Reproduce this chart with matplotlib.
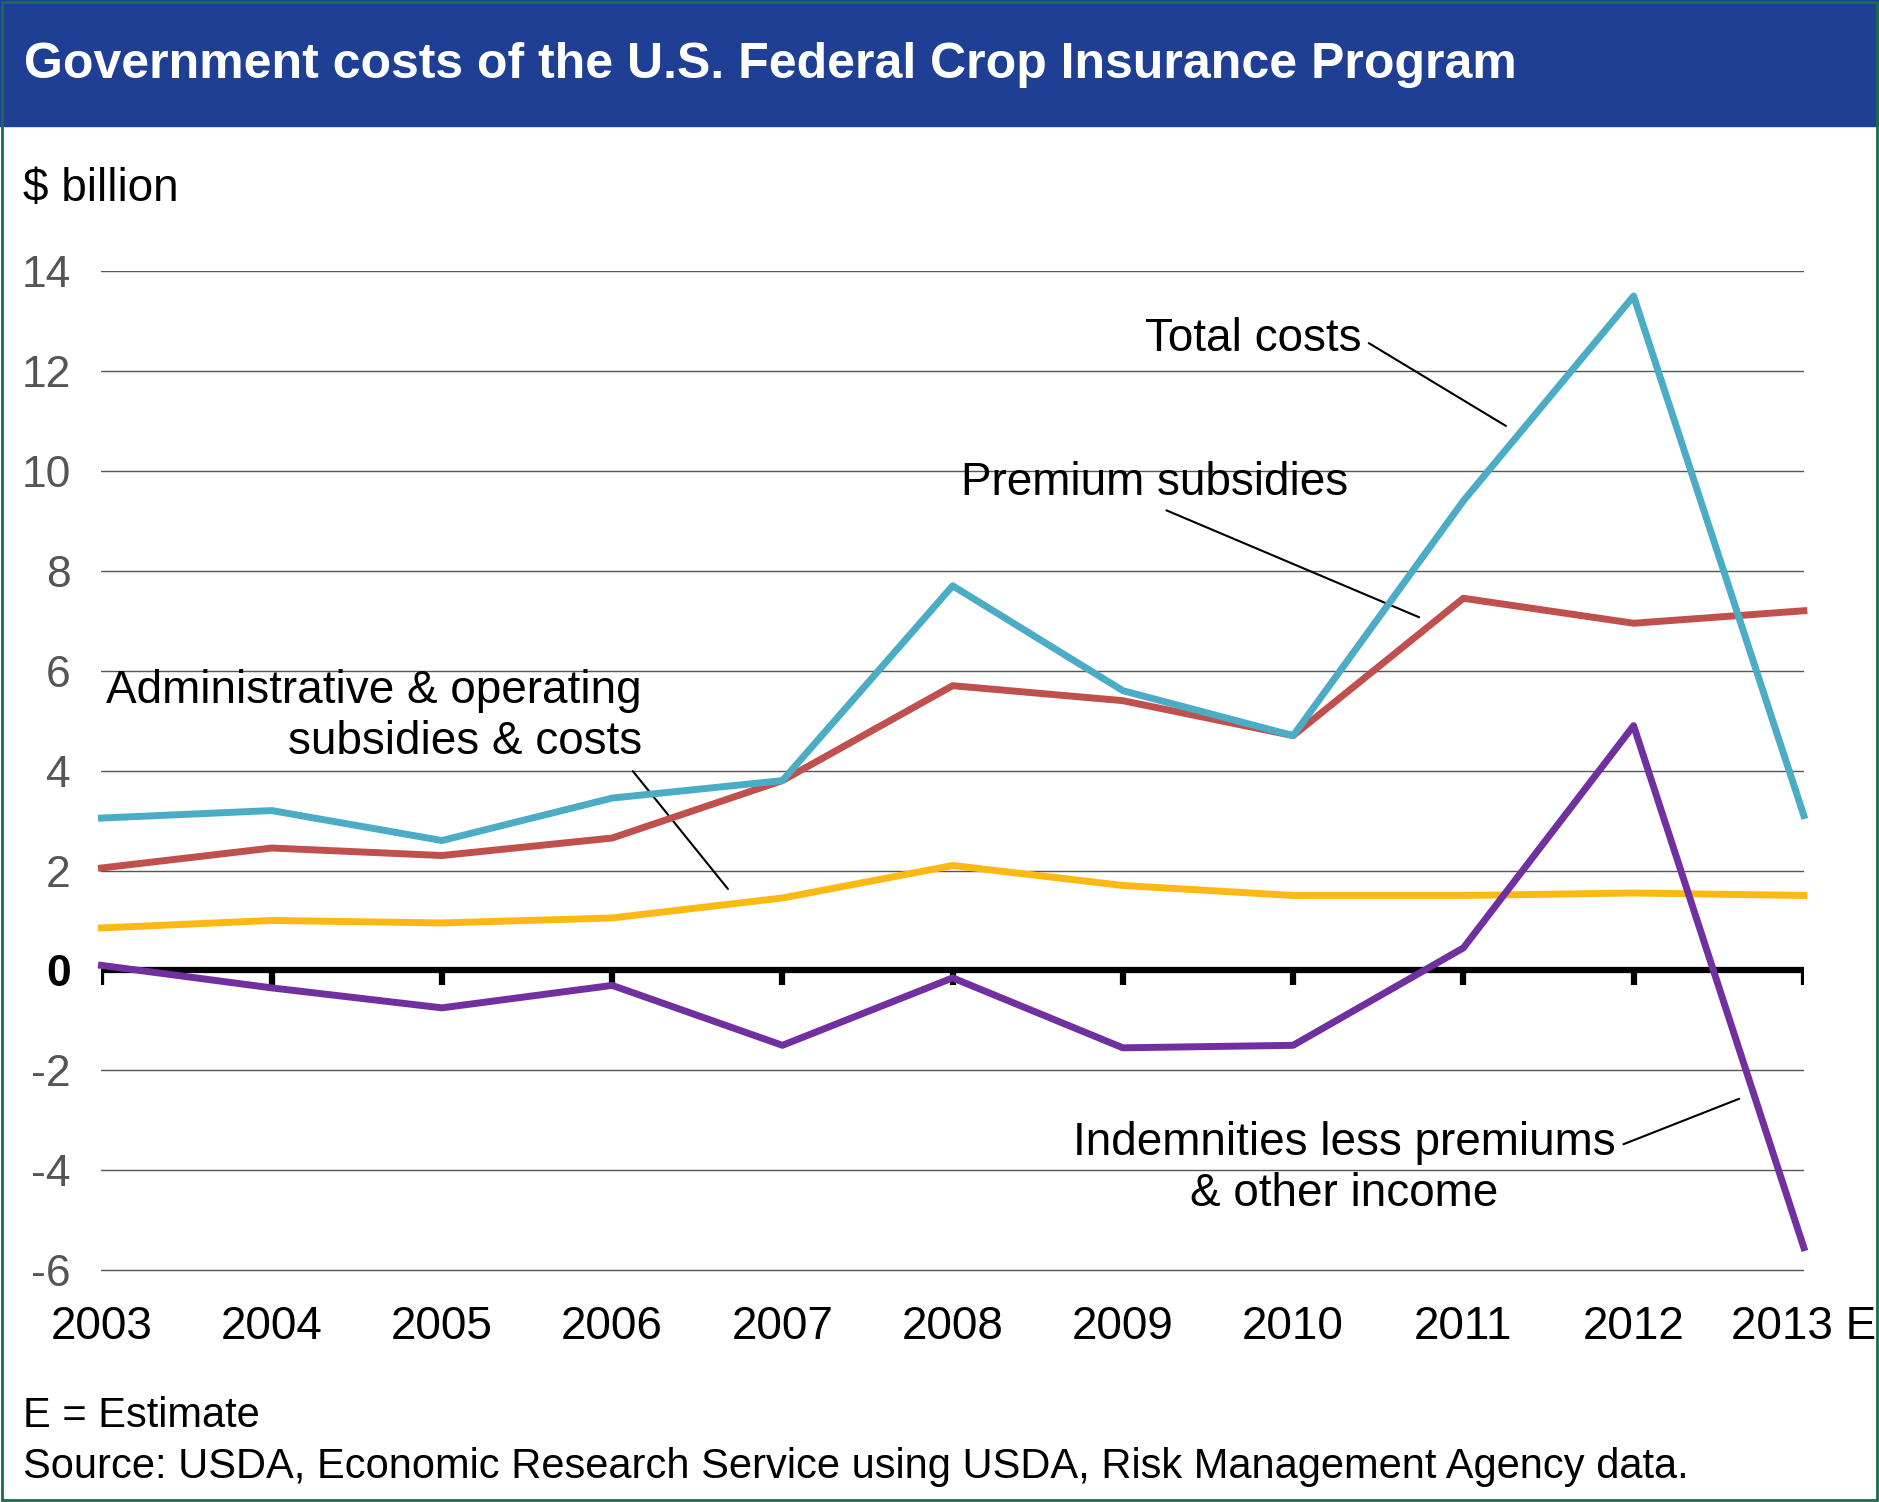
import matplotlib
matplotlib.use('Agg')
import matplotlib.pyplot as plt
from matplotlib.patches import Rectangle

plt.rcParams['font.family'] = ['Liberation Sans', 'DejaVu Sans']

years = [2003, 2004, 2005, 2006, 2007, 2008, 2009, 2010, 2011, 2012, 2013]
year_labels = ['2003', '2004', '2005', '2006', '2007', '2008', '2009', '2010', '2011', '2012', '2013 E']
total_costs = [3.05, 3.2, 2.6, 3.45, 3.8, 7.7, 5.6, 4.7, 9.4, 13.5, 3.1]
premium_subsidies = [2.05, 2.45, 2.3, 2.65, 3.8, 5.7, 5.4, 4.7, 7.45, 6.95, 7.2]
admin_costs = [0.85, 1.0, 0.95, 1.05, 1.45, 2.1, 1.7, 1.5, 1.5, 1.55, 1.5]
indemnities = [0.1, -0.35, -0.75, -0.3, -1.5, -0.15, -1.55, -1.5, 0.45, 4.9, -5.55]
y_ticks = [-6, -4, -2, 0, 2, 4, 6, 8, 10, 12, 14]

fig = plt.figure(figsize=(18.79, 15.02), dpi=100)
fig.patches.append(Rectangle((0, 0.916), 1, 0.084, transform=fig.transFigure,
                             color='#1f3f94', zorder=0))
fig.patches.append(Rectangle((0.001, 0.001), 0.998, 0.998, transform=fig.transFigure,
                             fill=False, edgecolor='#1d6b4f', lw=2))
fig.text(0.013, 0.957, 'Government costs of the U.S. Federal Crop Insurance Program',
         color='white', fontsize=36, fontweight='bold', va='center')

ax = fig.add_axes([0.054, 0.1534, 0.906, 0.6661])
ax.set_xlim(2003, 2013)
ax.set_ylim(-6.03, 14)
for s in ax.spines.values():
    s.set_visible(False)
ax.set_yticks(y_ticks)
ax.set_yticklabels([str(v) for v in y_ticks], color='#555555')
ax.get_yticklabels()[3].set_fontweight('bold')
ax.get_yticklabels()[3].set_color('black')
ax.tick_params(axis='y', length=0, labelsize=32, pad=22)
ax.grid(axis='y', color='#555555', lw=1)
ax.set_xticks(years)
ax.set_xticklabels(year_labels)
ax.tick_params(axis='x', length=0, labelsize=33, pad=24)
ax.set_axisbelow(True)

ax.axhline(0, color='black', lw=4.5, zorder=3)
ax.vlines(years, -0.3, 0, color='black', lw=4.5, zorder=3)

lw = 5
ax.plot(years, admin_costs, color='#fdb913', lw=lw, zorder=4, clip_on=False)
ax.plot(years, indemnities, color='#7030a0', lw=lw, zorder=4, clip_on=False)
ax.plot(years, premium_subsidies, color='#c0504d', lw=lw, zorder=5, clip_on=False)
ax.plot(years, total_costs, color='#4bacc6', lw=lw, zorder=6, clip_on=False)

fs = 33
arrow = dict(arrowstyle='-', color='black', lw=1.5, shrinkA=4, shrinkB=0)
ax.annotate('Total costs', xy=(2011.25, 10.9), xytext=(2010.4, 12.65), fontsize=fs,
            ha='right', va='center', arrowprops=dict(arrow, relpos=(1, 0.5)))
ax.annotate('Premium subsidies', xy=(2010.74, 7.07), xytext=(2008.05, 9.75), fontsize=fs,
            ha='left', va='center', arrowprops=dict(arrow, relpos=(0.5, 0)))
ax.annotate('Administrative & operating\nsubsidies & costs', xy=(2006.68, 1.63),
            xytext=(2004.6, 5.08), fontsize=fs, ha='center', va='center', multialignment='right',
            arrowprops=dict(arrow, relpos=(0.93, 0.3)))
ax.annotate('Indemnities less premiums\n& other income', xy=(2012.62, -2.57),
            xytext=(2010.3, -3.96), fontsize=fs, ha='center', va='center',
            arrowprops=dict(arrow, relpos=(1, 0.72)))

fig.text(0.0125, 0.8745, '$ billion', fontsize=33, va='center')
fig.text(0.012, 0.0575, 'E = Estimate', fontsize=30, va='center')
fig.text(0.012, 0.0235, 'Source: USDA, Economic Research Service using USDA, Risk Management Agency data.',
         fontsize=30, va='center')

fig.savefig('out.png', dpi=100)
